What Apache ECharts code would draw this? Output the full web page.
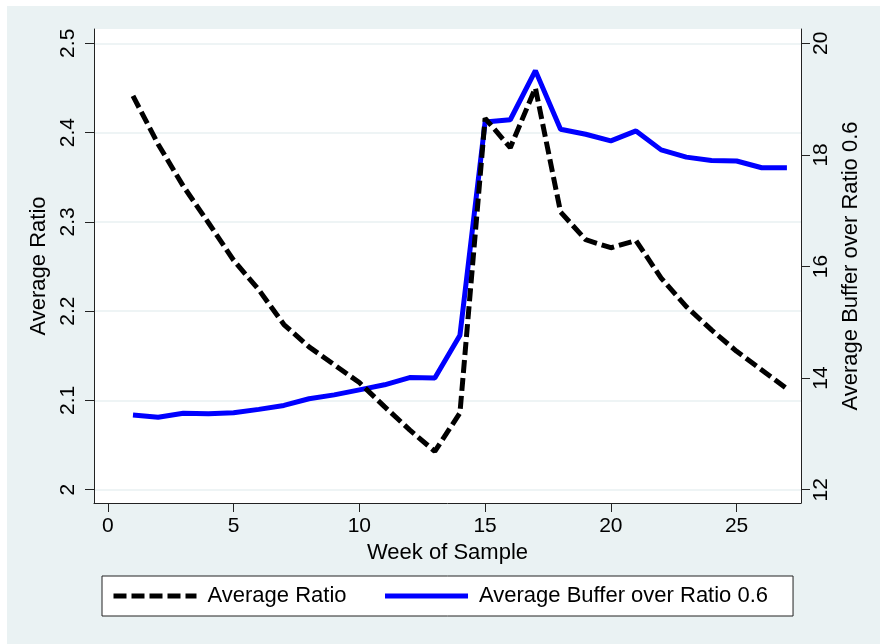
<!DOCTYPE html>
<html>
<head>
<meta charset="utf-8">
<script src="https://cdn.jsdelivr.net/npm/echarts@6/dist/echarts.min.js"></script>
<style>
  html, body { margin: 0; padding: 0; background: #fff; }
  #chart { width: 880px; height: 644px; }
</style>
</head>
<body>
<div id="chart"></div>
<script>
// Weekly averages
const weeks = [1, 2, 3, 4, 5, 6, 7, 8, 9, 10, 11, 12, 13, 14, 15, 16, 17, 18, 19, 20, 21, 22, 23, 24, 25, 26, 27];
const averageRatio = [2.441, 2.387, 2.340, 2.299, 2.257, 2.224, 2.185, 2.160, 2.140, 2.120, 2.093, 2.067, 2.043,
                      2.086, 2.416, 2.383, 2.450, 2.311, 2.280, 2.271, 2.279, 2.237, 2.205, 2.179, 2.155, 2.134, 2.113];
const averageBuffer = [13.34, 13.30, 13.37, 13.36, 13.38, 13.44, 13.51, 13.63, 13.70, 13.79, 13.88, 14.01, 14.00,
                       14.77, 18.59, 18.63, 19.51, 18.46, 18.37, 18.25, 18.43, 18.09, 17.96, 17.90, 17.89, 17.77, 17.77];

const xTicks = [0, 5, 10, 15, 20, 25];
const ratioTicks = [2, 2.1, 2.2, 2.3, 2.4, 2.5];
const bufferTicks = [12, 14, 16, 18, 20];

const seriesNames = ['Average Ratio', 'Average Buffer over Ratio 0.6'];

const FONT = 'Liberation Sans, Arial, sans-serif';
const AXIS_COLOR = '#222';
const GRID_COLOR = '#e8f0f2';

const chart = echarts.init(document.getElementById('chart'), null, { renderer: 'canvas' });

chart.setOption({
  backgroundColor: '#ffffff',
  animation: false,
  textStyle: { fontFamily: FONT, color: '#000' },
  graphic: [{
    type: 'rect',
    z: -100,
    shape: { x: 7, y: 6, width: 873, height: 638 },
    style: { fill: '#eaf2f3' }
  }],
  grid: {
    left: 94, right: 79, top: 29, bottom: 141,
    show: true, backgroundColor: '#ffffff', borderWidth: 0
  },
  legend: {
    data: seriesNames,
    left: 102, top: 576,
    orient: 'horizontal',
    backgroundColor: '#ffffff',
    borderColor: AXIS_COLOR, borderWidth: 1,
    padding: [9, 25, 9, 9],
    itemWidth: 83, itemHeight: 22, itemGap: 36,
    itemStyle: { opacity: 0 },
    lineStyle: { width: 5, cap: 'butt' },
    textStyle: { fontSize: 22, fontFamily: FONT, color: '#000', padding: [0, 0, 0, 6] }
  },
  xAxis: {
    type: 'value',
    min: -0.55, max: 27.56,
    name: 'Week of Sample',
    nameLocation: 'middle', nameGap: 34,
    nameTextStyle: { fontSize: 22, fontFamily: FONT, color: '#000' },
    axisLine: { show: true, onZero: false, lineStyle: { color: AXIS_COLOR, width: 1 } },
    axisTick: { show: true, length: 9, customValues: xTicks, lineStyle: { color: AXIS_COLOR } },
    axisLabel: { customValues: xTicks, fontSize: 21, margin: 13, color: '#000' },
    splitLine: { show: false }
  },
  yAxis: [{
    type: 'value',
    position: 'left',
    min: 1.9851, max: 2.516,
    name: 'Average Ratio',
    nameLocation: 'middle', nameGap: 41,
    nameTextStyle: { fontSize: 22, fontFamily: FONT, color: '#000' },
    axisLine: { show: true, onZero: false, lineStyle: { color: AXIS_COLOR, width: 1 } },
    axisTick: { show: true, length: 9, customValues: ratioTicks, lineStyle: { color: AXIS_COLOR } },
    axisLabel: { customValues: ratioTicks, fontSize: 21, rotate: 90, margin: 15, color: '#000' },
    splitLine: { show: true, lineStyle: { color: GRID_COLOR, width: 1.5 } }
  }, {
    type: 'value',
    position: 'right',
    min: 11.762, max: 20.256,
    name: 'Average Buffer over Ratio 0.6',
    nameLocation: 'middle', nameGap: 34,
    nameTextStyle: { fontSize: 22, fontFamily: FONT, color: '#000' },
    axisLine: { show: true, onZero: false, lineStyle: { color: AXIS_COLOR, width: 1 } },
    axisTick: { show: true, length: 9, customValues: bufferTicks, lineStyle: { color: AXIS_COLOR } },
    axisLabel: { customValues: bufferTicks, fontSize: 21, rotate: 90, margin: 10, color: '#000' },
    splitLine: { show: false }
  }],
  series: [{
    name: seriesNames[0],
    type: 'line',
    yAxisIndex: 0,
    symbol: 'none',
    data: weeks.map((w, i) => [w, averageRatio[i]]),
    lineStyle: { color: '#000', width: 5, type: [13, 5], cap: 'butt' },
    itemStyle: { color: '#000' },
    z: 3
  }, {
    name: seriesNames[1],
    type: 'line',
    yAxisIndex: 1,
    symbol: 'none',
    data: weeks.map((w, i) => [w, averageBuffer[i]]),
    lineStyle: { color: '#0000ff', width: 5 },
    itemStyle: { color: '#0000ff' },
    z: 2
  }]
});
</script>
</body>
</html>
